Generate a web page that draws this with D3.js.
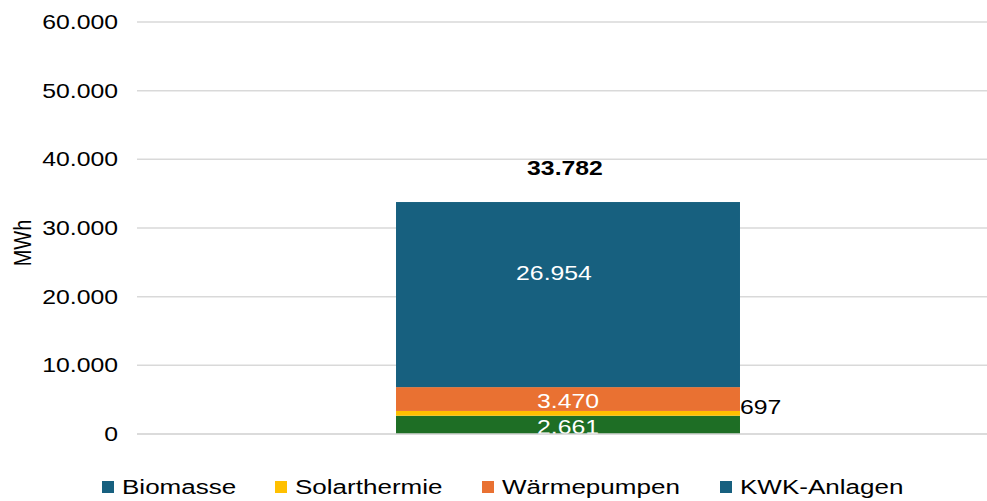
<!DOCTYPE html>
<html>
<head>
<meta charset="utf-8">
<script src="https://cdn.jsdelivr.net/npm/d3@7"></script>
<style>
  body { margin: 0; background: #fff; }
  text { font-family: "Liberation Sans", Arial, sans-serif; }
</style>
</head>
<body>
<div class="canvas"></div>
<script>
// data
const categories = ["Gesamt"];
const seriesNames = ["Biomasse", "Solarthermie", "Wärmepumpen", "KWK-Anlagen"];
const seriesValues = [2661, 697, 3470, 26954];
const seriesColors = ["#1e6e25", "#ffc000", "#e97132", "#17607f"];
const legendColors = ["#17607f", "#ffc000", "#e97132", "#17607f"];
const yTicks = [0, 10000, 20000, 30000, 40000, 50000, 60000];

const W = 987, H = 501;
const sx = 1.24; // text in the picture is stretched wide

const svg = d3.select(".canvas")
              .append("svg")
              .attr("width", W)
              .attr("height", H);

const de = d3.formatLocale({decimal: ",", thousands: ".", grouping: [3], currency: ["", " €"]});
const fmt = de.format(",d");

const y = d3.scaleLinear()
            .domain([0, 60000])
            .range([434, 22]);

const x = d3.scaleBand()
            .domain(categories)
            .range([137, 999])
            .paddingInner(0)
            .paddingOuter(0.753);

// stretched text helper
function label(g, tx, ty, str, opts = {}) {
  const t = g.append("g")
    .attr("transform", `translate(${tx},${ty}) scale(${opts.sx || sx},1)` + (opts.rot ? ` rotate(${opts.rot})` : ""))
    .append("text")
    .attr("text-anchor", opts.anchor || "middle")
    .attr("dy", "0.35em")
    .attr("font-size", opts.size || 20)
    .attr("fill", opts.fill || "#000")
    .attr("font-weight", opts.weight || "normal")
    .text(str);
  return t;
}

// gridlines
const grid = svg.append("g");
grid.selectAll("line")
    .data(yTicks)
    .enter()
    .append("line")
    .attr("x1", 137)
    .attr("x2", W)
    .attr("y1", d => y(d))
    .attr("y2", d => y(d))
    .attr("stroke", "#d9d9d9")
    .attr("stroke-width", 1.5);

// tick labels
const ticks = svg.append("g");
yTicks.forEach(t => label(ticks, 118, y(t), fmt(t), {anchor: "end"}));

// axis title
label(svg, 22, 243, "MWh", {rot: -90});

// stack
const row = {cat: categories[0]};
seriesNames.forEach((n, i) => row[n] = seriesValues[i]);
const stacked = d3.stack().keys(seriesNames)([row]);

const layers = svg.append("g")
  .selectAll("g")
  .data(stacked)
  .enter()
  .append("g")
  .attr("fill", (d, i) => seriesColors[i]);

layers.selectAll("rect")
  .data(d => d)
  .enter()
  .append("rect")
  .attr("x", d => x(d.data.cat))
  .attr("width", x.bandwidth())
  .attr("y", d => y(d[1]))
  .attr("height", d => y(d[0]) - y(d[1]));

// data labels
const labels = svg.append("g");
const cx = x(categories[0]) + x.bandwidth() / 2;
stacked.forEach((s, i) => {
  const d = s[0];
  const mid = (y(d[0]) + y(d[1])) / 2;
  if (seriesNames[i] === "Solarthermie") {
    label(labels, x(categories[0]) + x.bandwidth(), mid - 6, fmt(seriesValues[i]), {anchor: "start"});
  } else if (seriesNames[i] === "KWK-Anlagen") {
    label(labels, cx - 14, mid - 22, fmt(seriesValues[i]), {fill: "#fff"});
  } else {
    label(labels, cx, mid + 2, fmt(seriesValues[i]), {fill: "#fff"});
  }
});

// total
const total = d3.sum(seriesValues);
label(labels, cx - 3, y(total) - 34, fmt(total), {weight: "bold"});

// redraw baseline on top (covers the bottom of the last label)
svg.append("line")
   .attr("x1", 137).attr("x2", W)
   .attr("y1", y(0)).attr("y2", y(0))
   .attr("stroke", "#d9d9d9")
   .attr("stroke-width", 1.5);

// legend
const legendX = [102, 275, 482, 720];
const legend = svg.append("g");
seriesNames.forEach((n, i) => {
  legend.append("rect")
        .attr("x", legendX[i])
        .attr("y", 481)
        .attr("width", 12)
        .attr("height", 12)
        .attr("fill", legendColors[i]);
  legend.append("g")
        .attr("transform", `translate(${legendX[i] + 20},494) scale(${sx},1)`)
        .append("text")
        .attr("font-size", 21)
        .attr("fill", "#000")
        .text(n);
});
</script>
</body>
</html>
